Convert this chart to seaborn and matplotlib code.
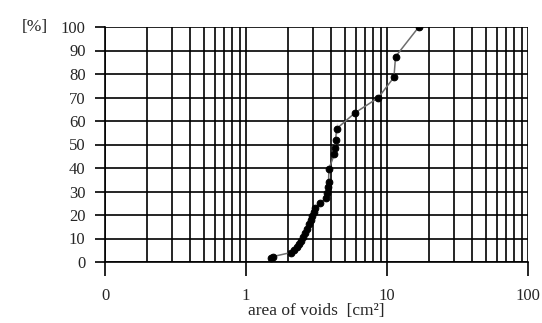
import matplotlib
matplotlib.use("Agg")
import matplotlib.pyplot as plt
import seaborn as sns
import pandas as pd
import numpy as np
from matplotlib.ticker import LogLocator, NullFormatter, FixedLocator

area = [1.50, 1.55, 2.07, 2.19, 2.29, 2.36, 2.45, 2.52, 2.62, 2.70, 2.80, 2.88,
        2.95, 3.02, 3.09, 3.35, 3.67, 3.73, 3.80, 3.85, 3.87, 3.87, 3.87, 3.87,
        4.23, 4.27, 4.32, 4.39, 4.39, 4.39, 5.94, 8.67, 11.2, 11.5, 16.8]
percent = [1.7, 2.3, 4.0, 5.0, 6.2, 7.5, 9.0, 10.7, 12.5, 14.2, 16.0, 17.8,
           19.5, 21.2, 22.8, 25.0, 27.1, 29.3, 31.8, 34.2, 36.3, 38.4, 40.6, 42.7,
           45.8, 48.4, 51.9, 54.3, 56.5, 59.3, 63.5, 69.9, 78.6, 87.4, 100.0]
x_tick_vals = [0.1, 1, 10, 100]
x_tick_labels = ["0", "1", "10", "100"]
y_ticks = list(range(0, 101, 10))

sns.set_style("white")
plt.rcParams['font.family'] = ['Liberation Serif', 'DejaVu Serif']

df = pd.DataFrame({"area": area, "percent": percent})

fig = plt.figure(figsize=(5.42, 3.23), dpi=100)
ax = fig.add_axes([105/542, 1-262/323, (528-105)/542, (262-27)/323])

sns.lineplot(data=df, x="area", y="percent", sort=False, ax=ax, color="#6e6e6e",
             linewidth=1.1, marker="o", markersize=4.8, markerfacecolor="black",
             markeredgecolor="black", zorder=5)

ax.set_xscale("log")
ax.set_xlim(0.1, 100)
ax.set_ylim(0, 100)

ax.xaxis.set_major_locator(FixedLocator(x_tick_vals))
ax.set_xticklabels(x_tick_labels)
ax.xaxis.set_minor_locator(LogLocator(base=10, subs=np.arange(2, 10)))
ax.xaxis.set_minor_formatter(NullFormatter())
ax.set_yticks(y_ticks)

ax.grid(True, which="both", axis="x", color="black", linewidth=1.2)
ax.grid(True, which="major", axis="y", color="black", linewidth=1.2)

for s in ["top", "right"]:
    ax.spines[s].set_visible(False)
for s in ["left", "bottom"]:
    ax.spines[s].set_color("black")
    ax.spines[s].set_linewidth(1.2)

ax.tick_params(axis="x", which="major", direction="out", length=10, width=1.2,
               color="black", pad=9, labelsize=12, bottom=True)
ax.tick_params(axis="x", which="minor", length=0)
ax.tick_params(axis="y", which="major", direction="out", length=7, width=1.2,
               color="black", pad=7, labelsize=12, left=True)

ax.set_xlabel("area of voids  [cm²]", fontsize=12.5, labelpad=-1)
ax.set_ylabel("")
fig.text(22/542, 1-27/323, "[%]", fontsize=12.5, ha="left", va="center")

fig.savefig("out.png", dpi=100)
